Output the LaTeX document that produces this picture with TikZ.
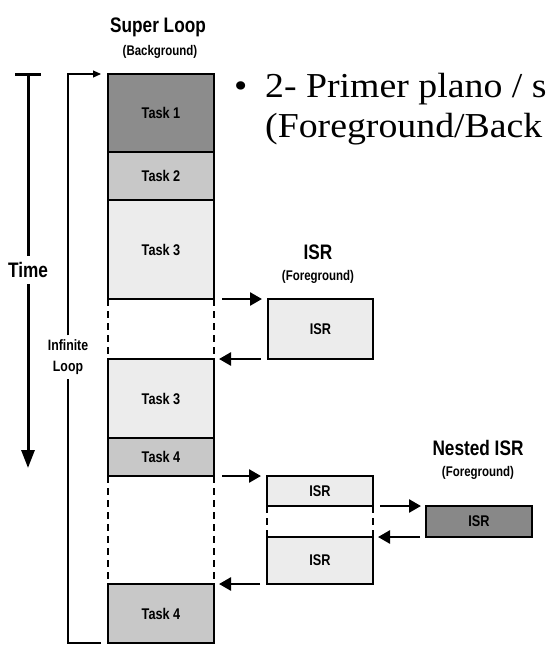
\documentclass[tikz,border=0pt]{standalone}
\usepackage{fontspec}
\setmainfont{Liberation Serif}
\newfontfamily\diagfont[FakeStretch=0.82]{Liberation Sans}
\newfontfamily\slidefont[FakeStretch=1.08]{Liberation Serif}
\usepackage{xcolor}
\definecolor{taskDark}{HTML}{8C8C8C}
\definecolor{taskMid}{HTML}{C8C8C8}
\definecolor{taskLight}{HTML}{ECECEC}
\definecolor{isrDark}{HTML}{888888}
\usetikzlibrary{arrows.meta}

\begin{document}
\begin{tikzpicture}[x=1pt,y=-1pt,
  block/.style={draw, line width=2.4pt, minimum width=106pt, inner sep=0pt, outer sep=0pt,
    font=\diagfont\bfseries\fontsize{15.5}{17}\selectfont},
  title/.style={inner sep=0pt, font=\diagfont\bfseries\fontsize{21}{24}\selectfont},
  subtitle/.style={inner sep=0pt, font=\diagfont\bfseries\fontsize{14}{16}\selectfont},
  gapline/.style={line width=2pt, dash pattern=on 7pt off 5pt},
  flow/.style={line width=2.6pt, -{Triangle[length=12pt,width=13pt]}},
  thinline/.style={line width=1.1pt},
  slide/.style={anchor=base west, inner sep=0pt, font=\slidefont\fontsize{35}{40}\selectfont}]
  \useasboundingbox (0,0) rectangle (546,649);
  \fill[white] (0,0) rectangle (546,649);

  % super loop column
  \node[block, fill=taskDark, minimum height=78pt] (t1) at (161,113) {Task 1};
  \node[block, fill=taskMid, minimum height=48pt] (t2) at (161,176) {Task 2};
  \node[block, fill=taskLight, minimum height=99pt] (t3a) at (161,249.5) {Task 3};
  \node[block, fill=taskLight, minimum height=79pt] (t3b) at (161,398.5) {Task 3};
  \node[block, fill=taskMid, minimum height=38pt] (t4a) at (161,457) {Task 4};
  \node[block, fill=taskMid, minimum height=59pt] (t4b) at (161,613.5) {Task 4};
  \draw[gapline] (t3a.south west) -- (t3b.north west);
  \draw[gapline] (t3a.south east) -- (t3b.north east);
  \draw[gapline] (t4a.south west) -- (t4b.north west);
  \draw[gapline] (t4a.south east) -- (t4b.north east);

  % interrupts
  \node[block, fill=taskLight, minimum width=105pt, minimum height=60pt] (isr) at (320.5,329) {ISR};
  \node[block, fill=taskLight, minimum height=30pt] (isrA) at (320,491) {ISR};
  \node[block, fill=taskLight, minimum height=47pt] (isrB) at (320,560.5) {ISR};
  \node[block, fill=isrDark, minimum height=31pt] (nest) at (479,521.5) {ISR};
  \draw[gapline] (isrA.south west) -- (isrB.north west);
  \draw[gapline] (isrA.south east) -- (isrB.north east);

  \draw[flow] ([xshift=8pt]t3a.south east) -- ([xshift=-6pt]isr.north west);
  \draw[flow] ([xshift=-7pt]isr.south west) -- ([xshift=5pt]t3b.north east);
  \draw[flow] ([xshift=8pt]t4a.south east) -- ([xshift=-6pt]isrA.north west);
  \draw[flow] ([xshift=-7pt]isrB.south west) -- ([xshift=5pt]t4b.north east);
  \draw[flow] ([xshift=7pt]isrA.south east) -- ([xshift=-5pt]nest.north west);
  \draw[flow] ([xshift=-6pt]nest.south west) -- ([xshift=5pt]isrB.north east);

  % titles
  \node[title] (sl) at (158,27) {Super Loop};
  \node[subtitle] (bg) at (160,52) {(Background)};
  \node[title] (isrt) at (318,252) {ISR};
  \node[subtitle] (fg) at (318,277) {(Foreground)};
  \node[title] (nt) at (478,448) {Nested ISR};
  \node[subtitle] (nfg) at (478,473) {(Foreground)};

  % time axis
  \node[title, inner sep=6pt] (time) at (28,270) {Time};
  \coordinate (timetop) at (28,73);
  \coordinate (timebot) at (28,468);
  \draw[line width=3pt, {Bar[width=26pt]}-] (timetop) -- (time.north);
  \draw[line width=3pt, -{Triangle[length=18pt,width=13pt]}] (time.south) -- (timebot);

  % infinite loop
  \node[inner sep=4pt, align=center, font=\diagfont\bfseries\fontsize{15}{21}\selectfont] (loop) at (68,357) {Infinite\\Loop};
  \draw[thinline] ([xshift=-7pt]t4b.south west) -| (loop.south);
  \draw[thinline, -{Triangle[length=8pt,width=7pt]}] (loop.north) |- ([xshift=-7pt]t1.north west);

  % slide text
  \begin{scope}
    \clip (0,0) rectangle (546,649);
    \node[slide] (bul) at (234,97) {•};
    \node[slide] (l1) at (265,97) {2- Primer plano / s};
    \node[slide] (l2) at (265,137) {(Foreground/Back};
  \end{scope}
\end{tikzpicture}
\end{document}
